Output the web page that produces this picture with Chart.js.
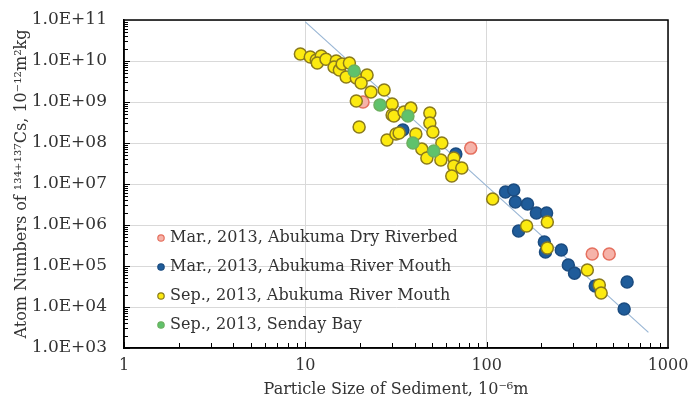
<!DOCTYPE html>
<html>
<head>
<meta charset="utf-8">
<script src="https://cdn.jsdelivr.net/npm/chart.js@4"></script>
<style>
  body { margin: 0; background: #fff; }
</style>
</head>
<body>
<canvas id="myChart" width="688" height="403"></canvas>
<script>
// tick values and labels
var xTicks = [1, 10, 100, 1000];
var xTickLabels = ["1", "10", "100", "1000"];
var yTicks = [1e3, 1e4, 1e5, 1e6, 1e7, 1e8, 1e9, 1e10, 1e11];
var yTickLabels = ["1.0E+03", "1.0E+04", "1.0E+05", "1.0E+06", "1.0E+07", "1.0E+08", "1.0E+09", "1.0E+10", "1.0E+11"];

// Mar., 2013, Abukuma Dry Riverbed
var drySize = [20.8, 81.7, 382, 474];
var dryAtoms = [1.0e9, 7.5e7, 1.96e5, 1.96e5];

// Mar., 2013, Abukuma River Mouth
var marSize = [34.5, 67.6, 127, 141, 144, 168, 188, 214, 150, 208, 211, 258, 282, 305, 397, 595, 573];
var marAtoms = [2.07e8, 5.4e7, 6.4e6, 7.1e6, 3.64e6, 3.25e6, 1.96e6, 1.96e6, 7.1e5, 3.85e5, 2.19e5, 2.46e5, 1.06e5, 6.7e4, 3.25e4, 4.07e4, 8.9e3];

// Sep., 2013, Abukuma River Mouth
var sepSize = [9.39, 10.65, 11.49, 12.24, 11.64, 13.0, 14.8, 14.4, 15.4, 15.97, 17.5, 16.8, 19.1, 21.9, 20.3, 23.0, 27.2,
  19.1, 30.1, 19.8, 30.1, 28.2, 31.6, 30.8, 35.0, 38.2, 48.6, 48.6, 50.5, 32.9, 40.7, 43.9, 56.6, 46.8, 55.9,
  65.9, 65.9, 72.9, 64.2, 107.9, 216, 166, 216, 359, 418, 428];
var sepAtoms = [1.48e10, 1.25e10, 1.06e10, 1.32e10, 8.9e9, 1.1e10, 1.0e10, 7.1e9, 6.0e9, 8.5e9, 8.9e9, 4.07e9, 3.85e9, 4.56e9, 2.9e9, 1.75e9, 1.96e9,
  1.06e9, 8.9e8, 2.46e8, 4.8e8, 1.18e8, 1.66e8, 4.56e8, 5.7e8, 7.1e8, 5.4e8, 3.08e8, 1.85e8, 1.75e8, 1.66e8, 7.1e7, 1.0e8, 4.3e7, 3.85e7,
  4.3e7, 2.75e7, 2.46e7, 1.57e7, 4.3e6, 1.18e6, 9.5e5, 2.75e5, 8.0e4, 3.44e4, 2.19e4];

// Sep., 2013, Senday Bay
var baySize = [18.6, 25.8, 36.8, 39.2, 51.1];
var bayAtoms = [5.7e9, 8.5e8, 4.56e8, 1.0e8, 6.4e7];

// fitted line
var fitSize = [10, 780];
var fitAtoms = [9e10, 2.4e3];

function toPoints(xs, ys) {
  return xs.map(function (x, i) { return {x: x, y: ys[i]}; });
}

var serif = "'DejaVu Serif', serif";

var series = [
  {label: "Mar., 2013, Abukuma Dry Riverbed", xs: drySize, ys: dryAtoms, fill: "#f6b3a9", edge: "#e5705f", order: 4},
  {label: "Mar., 2013, Abukuma River Mouth", xs: marSize, ys: marAtoms, fill: "#1f5c9a", edge: "#1b4c80", order: 3},
  {label: "Sep., 2013, Abukuma River Mouth", xs: sepSize, ys: sepAtoms, fill: "#fcea10", edge: "#8a7a1c", order: 2},
  {label: "Sep., 2013, Senday Bay", xs: baySize, ys: bayAtoms, fill: "#5fc26c", edge: "#6cb05f", order: 1}
];

var datasets = series.map(function (s) {
  return {
    label: s.label,
    data: toPoints(s.xs, s.ys),
    backgroundColor: s.fill,
    borderColor: s.edge,
    borderWidth: 1.5,
    pointRadius: 6,
    order: s.order
  };
});
datasets.push({
  type: "line",
  label: "fit",
  data: toPoints(fitSize, fitAtoms),
  borderColor: "#9ab7d5",
  borderWidth: 1.2,
  pointRadius: 0,
  fill: false,
  order: 5
});

// minor ticks, frame and legend inside the plot
var extras = {
  id: "extras",
  afterDraw: function (chart) {
    var ctx = chart.ctx;
    var a = chart.chartArea;
    var xs = chart.scales.x, ys = chart.scales.y;
    ctx.save();
    ctx.strokeStyle = "#000";
    ctx.lineWidth = 1;
    ctx.beginPath();
    for (var d = 3; d < 11; d++) {
      for (var k = 1; k < 10; k++) {
        var py = Math.round(ys.getPixelForValue(k * Math.pow(10, d))) + 0.5;
        ctx.moveTo(a.left, py);
        ctx.lineTo(a.left + (k === 1 ? 6 : 4), py);
      }
    }
    for (var e = 0; e < 3; e++) {
      for (var m = 1; m < 10; m++) {
        var px = Math.round(xs.getPixelForValue(m * Math.pow(10, e))) + 0.5;
        ctx.moveTo(px, a.bottom);
        ctx.lineTo(px, a.bottom - (m === 1 ? 6 : 5));
      }
    }
    ctx.stroke();
    ctx.lineWidth = 1.5;
    ctx.strokeRect(a.left, a.top, a.right - a.left, a.bottom - a.top);

    // legend
    ctx.font = "16px " + serif;
    ctx.textBaseline = "middle";
    series.forEach(function (s, i) {
      var y = 238 + i * 29;
      ctx.beginPath();
      ctx.arc(161, y, 3.2, 0, Math.PI * 2);
      ctx.fillStyle = s.fill;
      ctx.fill();
      ctx.lineWidth = 1.2;
      ctx.strokeStyle = s.edge;
      ctx.stroke();
      ctx.fillStyle = "#333";
      ctx.fillText(s.label, 170, y);
    });
    ctx.restore();
  }
};

new Chart("myChart", {
  type: "scatter",
  data: {datasets: datasets},
  options: {
    responsive: false,
    animation: false,
    layout: {padding: {left: 0, top: 20, right: 20, bottom: 0}},
    plugins: {
      legend: {display: false},
      tooltip: {enabled: false}
    },
    scales: {
      x: {
        type: "logarithmic",
        min: 1,
        max: 1000,
        afterBuildTicks: function (scale) {
          scale.ticks = xTicks.map(function (v) { return {value: v}; });
        },
        afterFit: function (scale) {
          scale.height = 55;
          scale.paddingLeft = 0;
          scale.paddingRight = 0;
        },
        ticks: {
          color: "#333",
          padding: 8,
          maxRotation: 0,
          font: {family: serif, size: 16},
          callback: function (v, i) { return xTickLabels[i]; }
        },
        grid: {color: "#d9d9d9", lineWidth: 1, drawTicks: false},
        border: {color: "#000", width: 1.5},
        title: {
          display: true,
          text: "Particle Size of Sediment, 10⁻⁶m",
          color: "#333",
          font: {family: serif, size: 16},
          padding: {top: 0, bottom: 4}
        }
      },
      y: {
        type: "logarithmic",
        min: 1e3,
        max: 1e11,
        afterBuildTicks: function (scale) {
          scale.ticks = yTicks.map(function (v) { return {value: v}; });
        },
        afterFit: function (scale) {
          scale.width = 124;
          scale.paddingTop = 0;
          scale.paddingBottom = 0;
        },
        ticks: {
          color: "#333",
          padding: 17,
          font: {family: serif, size: 17},
          callback: function (v, i) { return yTickLabels[i]; }
        },
        grid: {color: "#d9d9d9", lineWidth: 1, drawTicks: false},
        border: {color: "#000", width: 1.5},
        title: {
          display: true,
          text: "Atom Numbers of ¹³⁴⁺¹³⁷Cs, 10⁻¹²m²kg",
          color: "#333",
          font: {family: serif, size: 16},
          padding: {top: 12, bottom: 0}
        }
      }
    }
  },
  plugins: [extras]
});
</script>
</body>
</html>
